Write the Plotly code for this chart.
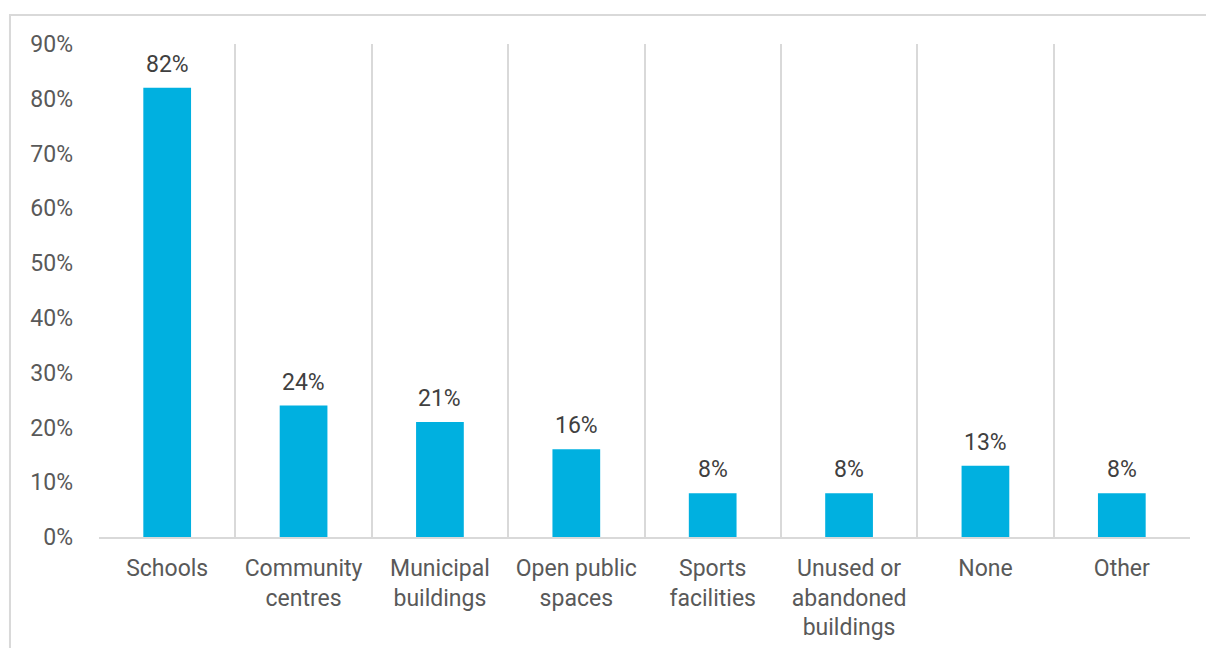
import plotly.graph_objects as go

categories = ["Schools", "Community<br>centres", "Municipal<br>buildings", "Open public<br>spaces",
              "Sports<br>facilities", "Unused or<br>abandoned<br>buildings", "None", "Other"]
shares = [82, 24, 21, 16, 8, 8, 13, 8]
y_ticks = [0, 10, 20, 30, 40, 50, 60, 70, 80, 90]
y_tick_labels = [f"{v}%" for v in y_ticks]

BAR = "#00B0E0"
GRID = "#D9D9D9"
TEXT = "#595959"
LABEL = "#404040"
FONT = "Roboto"
SIZE = 23

fig = go.Figure(go.Bar(
    x=categories,
    y=shares,
    marker=dict(color=BAR, line=dict(width=0)),
    width=0.35,
))

# value labels above each bar
for cat, val in zip(categories, shares):
    fig.add_annotation(
        x=cat, y=val, text=f"{val}%", showarrow=False,
        xanchor="center", yanchor="bottom", yshift=8,
        font=dict(family=FONT, size=SIZE, color=LABEL),
    )

fig.update_layout(
    width=1206, height=648,
    margin=dict(l=99, r=16, t=44, b=111, autoexpand=False),
    paper_bgcolor="white", plot_bgcolor="white",
    font=dict(family=FONT, size=SIZE, color=TEXT),
    showlegend=False,
    xaxis=dict(
        automargin=False,
        tickson="boundaries",
        showgrid=True, gridcolor=GRID, gridwidth=2,
        showline=True, linecolor=GRID, linewidth=2,
        ticks="", ticklabelstandoff=9,
        tickfont=dict(family=FONT, size=SIZE, color=TEXT),
    ),
    yaxis=dict(
        automargin=False,
        range=[0, 90],
        tickvals=y_ticks, ticktext=y_tick_labels,
        showgrid=False, zeroline=False, showline=False,
        ticks="", ticklabelstandoff=25,
        tickfont=dict(family=FONT, size=SIZE, color=TEXT),
    ),
    shapes=[dict(
        type="rect", xref="paper", yref="paper",
        x0=-0.0816, x1=1.05, y0=-0.3, y1=1.0588,
        line=dict(color=GRID, width=2), fillcolor="rgba(0,0,0,0)", layer="below",
    )],
)

fig.write_html("out.html")
